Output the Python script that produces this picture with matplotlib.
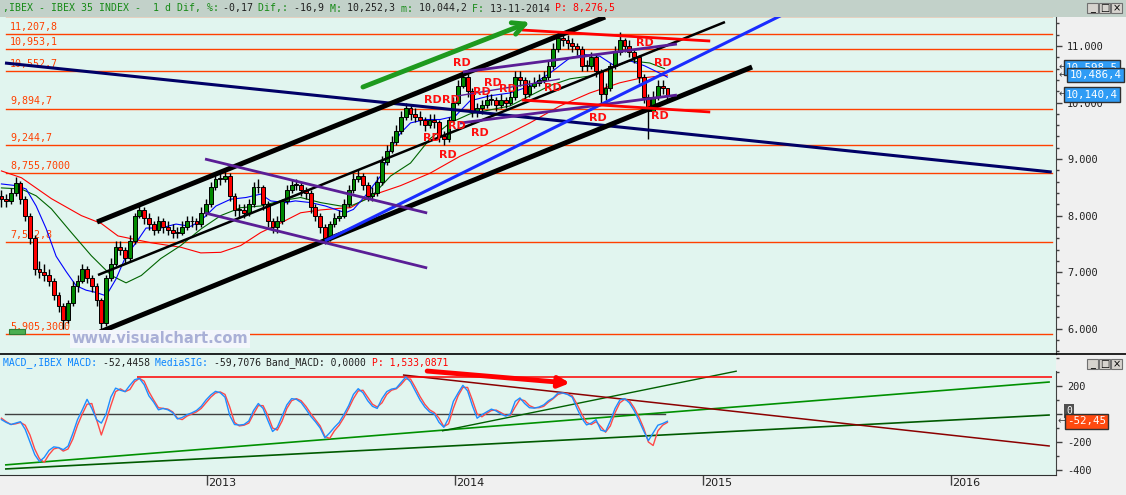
import numpy as np
import pandas as pd
import matplotlib
matplotlib.use("Agg")
import matplotlib.pyplot as plt
from matplotlib import font_manager
from matplotlib.patches import Rectangle
from matplotlib.ticker import MultipleLocator, FuncFormatter
import matplotlib.transforms as mtransforms

# ---------------------------------------------------------------- data
START = "2012-03-05"                      # first weekly bar
YEAR_TICKS = ["2013-01-01", "2014-01-01", "2015-01-01", "2016-01-01"]
YEAR_LABELS = ["2013", "2014", "2015", "2016"]

first_open = 8350
closes = [8300, 8250, 8400, 8580, 8300, 8000, 7600, 7050, 7000, 6950,
          6850, 6600, 6400, 6150, 6450, 6750, 6850, 7050, 6900, 6750,
          6500, 6100, 6900, 7150, 7450, 7400, 7250, 7550, 8000, 8100,
          7950, 7850, 7750, 7900, 7800, 7750, 7700, 7700, 7800, 7900,
          7900, 7850, 8050, 8200, 8500, 8650, 8650, 8700, 8350, 8100,
          8100, 8050, 8200, 8500, 8500, 8200, 7900, 7800, 7900, 8250,
          8450, 8550, 8550, 8450, 8400, 8150, 8000, 7800, 7600, 7850,
          7950, 8000, 8200, 8450, 8650, 8700, 8550, 8350, 8400, 8600,
          8950, 9150, 9300, 9500, 9750, 9900, 9800, 9750, 9700, 9600,
          9700, 9650, 9400, 9350, 9700, 10000, 10300, 10450, 10200, 9850,
          9900, 9950, 10050, 10050, 9950, 10050, 10000, 10100, 10450, 10400,
          10150, 10300, 10350, 10400, 10450, 10650, 10950, 11150, 11100, 11050,
          11000, 10950, 10650, 10650, 10800, 10550, 10150, 10250, 10650, 10900,
          11100, 11000, 10900, 10800, 10450, 10100, 9850, 10100, 10300, 10250,
          10140]
highs = [8450, 8380, 8480, 8680, 8620, 8350, 8050, 7650, 7200, 7150,
         7050, 6900, 6650, 6450, 6500, 6850, 6950, 7150, 7100, 6950,
         6800, 6550, 6950, 7250, 7550, 7550, 7450, 7650, 8050, 8200,
         8150, 8050, 7900, 8000, 7950, 7900, 7850, 7800, 7900, 8000,
         8000, 7950, 8150, 8300, 8600, 8750, 8750, 8800, 8750, 8400,
         8200, 8200, 8300, 8600, 8650, 8550, 8250, 7950, 8000, 8300,
         8550, 8650, 8650, 8600, 8500, 8450, 8200, 8050, 7850, 7900,
         8050, 8100, 8300, 8550, 8750, 8800, 8750, 8600, 8500, 8700,
         9050, 9250, 9400, 9600, 9850, 10000, 9950, 9900, 9850, 9750,
         9800, 9800, 9700, 9500, 9750, 10100, 10400, 10550, 10500, 10250,
         10000, 10050, 10150, 10150, 10100, 10150, 10100, 10200, 10550, 10550,
         10450, 10400, 10450, 10500, 10550, 10750, 11050, 11250, 11200, 11200,
         11150, 11050, 11000, 10750, 10900, 10850, 10600, 10350, 10700, 11000,
         11250, 11150, 11100, 10950, 10850, 10500, 10150, 10200, 10400, 10400,
         10252]
lows = [8150, 8150, 8200, 8350, 8200, 7900, 7500, 6950, 6900, 6850,
        6750, 6500, 6300, 6000, 6100, 6400, 6650, 6800, 6800, 6650,
        6400, 5900, 6050, 6850, 7100, 7300, 7150, 7200, 7500, 7950,
        7850, 7750, 7650, 7700, 7700, 7650, 7600, 7600, 7650, 7750,
        7800, 7750, 7800, 8000, 8150, 8450, 8550, 8600, 8250, 8000,
        7950, 7950, 8000, 8150, 8400, 8100, 7800, 7700, 7700, 7850,
        8200, 8400, 8450, 8350, 8300, 8050, 7900, 7700, 7500, 7550,
        7800, 7900, 7950, 8150, 8400, 8600, 8450, 8250, 8250, 8350,
        8550, 8900, 9100, 9250, 9450, 9700, 9700, 9650, 9600, 9500,
        9550, 9550, 9300, 9250, 9300, 9650, 9950, 10250, 10100, 9750,
        9750, 9800, 9900, 9950, 9850, 9900, 9900, 9950, 10050, 10300,
        10050, 10100, 10250, 10300, 10350, 10400, 10600, 10900, 11000, 10950,
        10900, 10850, 10550, 10550, 10600, 10450, 9950, 10050, 10200, 10600,
        10850, 10900, 10800, 10700, 10350, 10000, 9350, 9800, 10050, 10150,
        10044]

# moving averages (week position, value)
ma_fast_w = [0, 3.1, 5.2, 7.3, 9.4, 11.5, 13.6, 15.7, 17.8, 19.9, 22, 24.1, 26.2,
             28.3, 30.4, 33.5, 36.7, 39.8, 41.9, 45.1, 48.2, 51.4, 54.5, 56.6,
             59.7, 61.8, 65, 68.1, 72.3, 74, 76.5, 79.7, 81.8, 83.9, 86, 89.1,
             92.2, 95.4, 98.5, 102.7, 106.9, 111.1, 115.3, 119.5, 122.6, 125.8,
             128.9, 132.1, 135.2, 138.4, 140]
ma_fast = [8560, 8530, 8470, 8170, 7770, 7280, 7010, 6760, 6680, 6640, 6580, 6880,
           7290, 7520, 7780, 7780, 7850, 7810, 7910, 8170, 8290, 8320, 8380, 8260,
           8230, 8260, 8230, 8170, 8050, 8110, 8350, 8700, 9180, 9460, 9640, 9700,
           9700, 9760, 10030, 10120, 10170, 10290, 10520, 10790, 10850, 10820,
           10650, 10740, 10650, 10520, 10450]
ma_mid_w = [0, 4.2, 7.3, 10.5, 14.7, 18.9, 23.1, 26.2, 29.4, 33.5, 37.7, 41.9,
            46.1, 50.3, 54.5, 58.7, 62.9, 67.1, 71.3, 73.4, 77.6, 81.8, 86,
            90.1, 94.3, 98.5, 102.7, 106.9, 111.1, 115.3, 119.5, 123.7, 127.9,
            132.1, 136.3, 139.4]
ma_mid = [8490, 8470, 8350, 8120, 7700, 7290, 6940, 6810, 6940, 7240, 7470, 7760,
          8000, 8140, 8170, 8260, 8320, 8230, 8170, 8170, 8320, 8700, 8930, 9360,
          9640, 9800, 9870, 9940, 10120, 10300, 10420, 10470, 10600, 10740, 10700,
          10600]
ma_slow_w = [0, 4.2, 10.5, 16.8, 21, 24.5, 31.4, 37.7, 41.9, 46.1, 50.3, 54.5,
             58.7, 62.9, 67.1, 71.3, 73.4, 77.6, 83.9, 90.1, 96.4, 102.7, 106.9,
             111.1, 117.4, 123.7, 130, 134.2, 140]
ma_slow = [8790, 8670, 8300, 8000, 7860, 7640, 7520, 7440, 7340, 7350, 7470, 7700,
           7870, 8050, 8100, 8130, 8140, 8350, 8530, 8750, 9050, 9290, 9460, 9640,
           9940, 10170, 10350, 10430, 10486]

macd = [-40, -60, -75, -65, -55, -110, -200, -290, -340, -310,
        -260, -235, -240, -255, -230, -140, -40, 30, 105, 40,
        -40, -65, 0, 120, 185, 170, 160, 205, 245, 255,
        210, 130, 85, 30, 40, 30, 10, -35, -25, -5,
        8, 25, 55, 100, 136, 162, 152, 120, -10, -75,
        -79, -75, -50, 25, 75, 40, -45, -125, -95, -15,
        65, 110, 105, 82, 35, -15, -55, -100, -170, -135,
        -95, -60, -3, 60, 140, 181, 152, 95, 55, 40,
        110, 160, 178, 185, 225, 265, 230, 165, 100, 50,
        15, 0, -60, -95, -30, 90, 150, 205, 165, 60,
        -30, -5, 15, 35, 22, 0, -15, 0, 90, 115,
        75, 45, 42, 50, 65, 95, 115, 150, 150, 140,
        120, 40, -30, -78, -65, -40, -115, -125, -50, 40,
        100, 110, 80, 25, -45, -120, -190, -135, -80, -68,
        -52]
signal = [-30, -55, -75, -70, -60, -80, -150, -250, -320, -345,
          -290, -250, -240, -265, -250, -180, -80, 0, 70, 75,
          -40, -150, -50, 60, 160, 180, 160, 175, 230, 255,
          235, 160, 100, 45, 40, 35, 15, -30, -40, -15,
          0, 15, 40, 80, 120, 150, 158, 140, 50, -60,
          -85, -80, -65, 0, 60, 60, -10, -100, -115, -50,
          40, 95, 110, 95, 55, 5, -40, -85, -160, -175,
          -120, -80, -25, 40, 110, 165, 170, 120, 70, 50,
          80, 140, 170, 180, 210, 250, 250, 190, 125, 70,
          30, 10, -30, -90, -70, 40, 130, 190, 190, 100,
          0, -20, 5, 25, 28, 10, -10, -10, 50, 105,
          95, 60, 45, 45, 55, 85, 110, 140, 150, 145,
          130, 70, 0, -60, -75, -55, -90, -130, -85, 10,
          80, 105, 95, 45, -20, -100, -200, -225, -120, -80,
          -60]

levels = [11530, 11207.8, 10953.1, 10552.7, 9894.7, 9244.7, 8755.7, 7532.8, 5905.3]
level_labels = ["", "11,207,8", "10,953,1", "10,552,7", "9,894,7", "9,244,7",
                "8,755,7000", "7,532,8", "5,905,3000"]

# hand-drawn study lines: (week, price)
trend_navy = [(0.75, 10700), (220.8, 8771)]
chan_lower = [(20.7, 5940), (157.8, 10629)]
chan_upper = [(20.1, 7887), (126.9, 11514)]
chan_mid = [(20.3, 6949), (152.1, 11425)]
trend_blue = [(68.0, 7551), (164.1, 11549)]
wedge_a = [(42.8, 9001), (89.5, 8046)]
wedge_b = [(42.8, 8046), (89.5, 7073)]
wedge_c = [(97.0, 10541), (142.0, 11036)]
wedge_d = [(96.4, 9637), (142.0, 10133)]
wedge_e = [(95.8, 10116), (117.4, 10417)]
red_top = [(109.4, 11284), (149.0, 11089)]
red_bot = [(109.4, 10045), (149.0, 9833)]
green_arrow = [(76.0, 10275), (111.1, 11425)]

rd_w = [96.8, 103.3, 101.0, 106.5, 90.7, 94.5, 116.0, 95.8, 100.6, 90.5, 93.9,
        125.4, 135.3, 139.1, 138.4]
rd_p = [10700, 10346, 10187, 10240, 10045, 10045, 10258, 9585, 9462, 9373, 9072,
        9727, 11054, 10700, 9762]

# MACD pane study lines: (week, value)
macd_green_light = [(0.75, -364), (220.4, 229)]
macd_green_dark = [(0.75, -393), (220.4, -7)]
macd_green_thin = [(92.6, -121), (154.6, 307)]
macd_darkred = [(84.4, 279), (220.4, -229)]
macd_red_top = [(28.5, 265), (220.8, 265)]
macd_red_arrow = [(89.5, 307), (119.5, 221)]
macd_zero_span = [0.75, 139.5]

last_boxes = [(10620, "10,598,5"), (10486.4, "10,486,4"), (10140.4, "10,140,4")]
macd_last = -52.45

# ---------------------------------------------------------------- style
W, H = 1126, 495
available = {f.name for f in font_manager.fontManager.ttflist}
NARROW = "Liberation Sans Narrow" if "Liberation Sans Narrow" in available else "DejaVu Sans"
MONO = "DejaVu Sans Mono"
BG = "#e1f5ef"
GRAYBG = "#f0f0f0"
LEVEL_C = "#ff4000"

fig = plt.figure(figsize=(W / 100, H / 100), dpi=100)
fig.patch.set_facecolor(GRAYBG)


def axrect(x0, y0, x1, y1):
    return [x0 / W, 1 - y1 / H, (x1 - x0) / W, (y1 - y0) / H]


ax1 = fig.add_axes(axrect(0, 17, 1056, 354))
ax2 = fig.add_axes(axrect(0, 354, 1056, 475))
XMIN, XMAX = -0.3, -0.3 + 1056 / 4.757
start = pd.Timestamp(START)
year_w = [(pd.Timestamp(d) - start).days / 7.0 for d in YEAR_TICKS]

for ax in (ax1, ax2):
    ax.set_facecolor(BG)
    ax.set_xlim(XMIN, XMAX)
    for s in ("left", "top"):
        ax.spines[s].set_visible(False)
    ax.spines["right"].set_color("#404040")
    ax.spines["bottom"].set_color("#303030")
    ax.yaxis.tick_right()

ax1.set_ylim(5551, 11514)
ax2.set_ylim(-436, 429)

# ---------------------------------------------------------------- price pane
for v, lab in zip(levels, level_labels):
    ax1.plot([1.0, 220.8], [v, v], color=LEVEL_C, lw=1.0, zorder=1)
    if lab:
        ax1.annotate(lab, xy=(10 / 1056, v), xycoords=("axes fraction", "data"),
                     xytext=(0, 1.5), textcoords="offset points", ha="left", va="bottom",
                     fontsize=7.2, family=MONO, color=LEVEL_C, zorder=1)

ax1.plot(ma_slow_w, ma_slow, color="#ff0000", lw=0.8, zorder=2)
ax1.plot(ma_mid_w, ma_mid, color="#006400", lw=0.8, zorder=2)
ax1.plot(ma_fast_w, ma_fast, color="#0000ff", lw=0.8, zorder=2)

c = np.array(closes, float)
o = np.r_[first_open, c[:-1]]
hi = np.array(highs, float)
lo = np.array(lows, float)
xi = np.arange(len(c))
up = c >= o
ax1.vlines(xi, lo, hi, color="black", lw=1.0, zorder=3)
body_h = np.maximum(np.abs(c - o), 12)
ax1.bar(xi, body_h, bottom=np.minimum(o, c), width=0.8,
        color=np.where(up, "#008a00", "#ff0000"), edgecolor="black", linewidth=0.7, zorder=4)


def seg(ax, pts, color, lw, z=5):
    (x0, y0), (x1, y1) = pts
    ax.plot([x0, x1], [y0, y1], color=color, lw=lw, zorder=z, solid_capstyle="butt")


seg(ax1, trend_navy, "#000066", 2.2)
seg(ax1, chan_lower, "black", 3.6)
seg(ax1, chan_upper, "black", 3.6)
seg(ax1, chan_mid, "black", 1.8)
seg(ax1, trend_blue, "#1a2cff", 2.2)
for w_ in (wedge_a, wedge_b, wedge_c, wedge_d):
    seg(ax1, w_, "#5a1e96", 2.0)
seg(ax1, wedge_e, "#5a1e96", 1.0)
seg(ax1, red_top, "#ff0000", 2.0)
seg(ax1, red_bot, "#ff0000", 2.0)
ax1.annotate("", xy=green_arrow[1], xytext=green_arrow[0],
             arrowprops=dict(arrowstyle="->", lw=3.5, color="#1e9a1e",
                             mutation_scale=22, shrinkA=0, shrinkB=0), zorder=6)

for w_, p_ in zip(rd_w, rd_p):
    ax1.text(w_, p_, "RD", color="#ff1010", fontsize=8, fontweight="bold",
             ha="center", va="center", zorder=8, family="DejaVu Sans")

ax1.text(160 / 1056, 0.045, "www.visualchart.com", transform=ax1.transAxes,
         ha="center", va="center", fontsize=10.5, fontweight="bold", color="#a9b0d6",
         bbox=dict(boxstyle="square,pad=0.12", fc="#f3f6fb", ec="none"), zorder=7)
ax1.add_patch(Rectangle((9 / 1056, 0.06), 16 / 1056, 0.014, transform=ax1.transAxes,
                        fc="#4caf50", ec="#2e7d32", lw=0.8, zorder=7))

ax1.set_xticks([])
ax1.set_yticks(range(6000, 12000, 1000))
ax1.yaxis.set_minor_locator(MultipleLocator(200))
ax1.yaxis.set_major_formatter(FuncFormatter(lambda v, p: f"{int(v):,}".replace(",", ".")))
ax1.tick_params(axis="y", which="major", length=4.5, width=1, color="#404040",
                labelsize=7.4, labelcolor="#202020", pad=3.5, labelfontfamily=MONO)
ax1.tick_params(axis="y", which="minor", length=2.5, width=1, color="#404040")

blend1 = mtransforms.blended_transform_factory(ax1.transAxes, ax1.transData)
for (v, t), xf in zip(last_boxes, [1.0095, 1.0125, 1.0095]):
    ax1.text(xf, v, t, transform=blend1, ha="left", va="center", fontsize=7.8,
             family=MONO, color="white", clip_on=False, zorder=10,
             bbox=dict(boxstyle="square,pad=0.22", fc="#2f9cf5", ec="#303030", lw=1))
    ax1.text(1.002, v, "\u2190", transform=blend1, ha="left", va="center",
             fontsize=7, color="#404040", clip_on=False, zorder=9)

# ---------------------------------------------------------------- MACD pane
ax2.plot(macd_zero_span, [0, 0], color="#404040", lw=1.0, zorder=1)
seg(ax2, macd_green_light, "#009000", 1.2, 2)
seg(ax2, macd_green_dark, "#005a00", 1.2, 2)
seg(ax2, macd_green_thin, "#006000", 1.0, 2)
seg(ax2, macd_darkred, "#8b0000", 1.1, 2)
seg(ax2, macd_red_top, "#ff0000", 1.1, 2)
ax2.plot(xi, signal, color="#ff4848", lw=1.0, zorder=3)
ax2.plot(xi, macd, color="#1e8cff", lw=1.0, zorder=4)
ax2.annotate("", xy=macd_red_arrow[1], xytext=macd_red_arrow[0],
             arrowprops=dict(arrowstyle="-|>", lw=3.5, color="#ff0000",
                             mutation_scale=16, shrinkA=0, shrinkB=0), zorder=5)

ax2.set_yticks([-400, -200, 0, 200])
ax2.yaxis.set_minor_locator(MultipleLocator(100))
ax2.yaxis.set_major_formatter(FuncFormatter(lambda v, p: f"{int(v)}"))
ax2.tick_params(axis="y", which="major", length=4.5, width=1, color="#404040",
                labelsize=7.4, labelcolor="#202020", pad=3.5, labelfontfamily=MONO)
ax2.tick_params(axis="y", which="minor", length=2.5, width=1, color="#404040")
ax2.spines["right"].set_bounds(-436, 310)
ax2.set_xticks(year_w)
ax2.tick_params(axis="x", length=7, width=1, color="#404040", direction="out",
                labelbottom=False)
for w_, lab in zip(year_w, YEAR_LABELS):
    ax2.annotate(lab, xy=(w_, 0), xycoords=("data", "axes fraction"),
                 xytext=(1.2, -2), textcoords="offset points", ha="left", va="top",
                 fontsize=8, family=NARROW, color="#202020", annotation_clip=False)

blend2 = mtransforms.blended_transform_factory(ax2.transAxes, ax2.transData)
ax2.text(1.0095, 22, "0", transform=blend2, ha="left", va="center", fontsize=7,
         family=MONO, color="white", clip_on=False, zorder=9,
         bbox=dict(boxstyle="square,pad=0.2", fc="#505050", ec="none"))
ax2.text(1.0105, macd_last, "-52,45", transform=blend2, ha="left", va="center",
         fontsize=7.8, family=MONO, color="white", clip_on=False, zorder=10,
         bbox=dict(boxstyle="square,pad=0.2", fc="#ff4a10", ec="#303030", lw=1))
ax2.text(1.001, macd_last, "\u2190", transform=blend2, ha="left", va="center",
         fontsize=7, color="#404040", clip_on=False, zorder=9)

# ---------------------------------------------------------------- chrome
fig.patches.append(Rectangle((0, 1 - 17 / H), 1, 17 / H, transform=fig.transFigure,
                             fc="#c2d1c9", ec="none", zorder=0))
fig.lines.append(plt.Line2D([0, 1], [1 - 354 / H] * 2, transform=fig.transFigure,
                            color="black", lw=1.2))


def seq_text(x_px, y_px, parts, fs):
    cw = 0.6021 * fs * 100 / 72
    x = x_px
    for s, col in parts:
        fig.text(x / W, 1 - y_px / H, s, color=col, fontsize=fs, family=MONO,
                 ha="left", va="center")
        x += len(s) * cw


G, K, R, B = "#168a16", "#202020", "#ff0000", "#0a84ff"
seq_text(3, 8.5, [(",IBEX - IBEX 35 INDEX -  1 d Dif, %: ", G), ("-0,17 ", K),
                  ("Dif,: ", G), ("-16,9 ", K), ("M: ", G), ("10,252,3 ", K),
                  ("m: ", G), ("10,044,2 ", K), ("F: ", G), ("13-11-2014 ", K),
                  ("P: 8,276,5", R)], 7.1)
seq_text(3, 363, [("MACD_,IBEX MACD: ", B), ("-52,4458 ", K), ("MediaSIG: ", B),
                  ("-59,7076 ", K), ("Band_MACD: 0,0000 ", K),
                  ("P: 1,533,0871", R)], 7.0)


def buttons(y_px):
    for i, g in enumerate(["_", "\u25a1", "\u00d7"]):
        x0 = 1087 + i * 12
        fig.patches.append(Rectangle((x0 / W, 1 - (y_px + 10) / H), 11 / W, 10 / H,
                                     transform=fig.transFigure, fc="#d6d3ce",
                                     ec="#707070", lw=0.8))
        fig.text((x0 + 5.5) / W, 1 - (y_px + 5) / H, g, fontsize=7, ha="center",
                 va="center", color="black", family="DejaVu Sans")


buttons(3)
buttons(359)

fig.savefig("out.png", dpi=100, facecolor=fig.get_facecolor())
